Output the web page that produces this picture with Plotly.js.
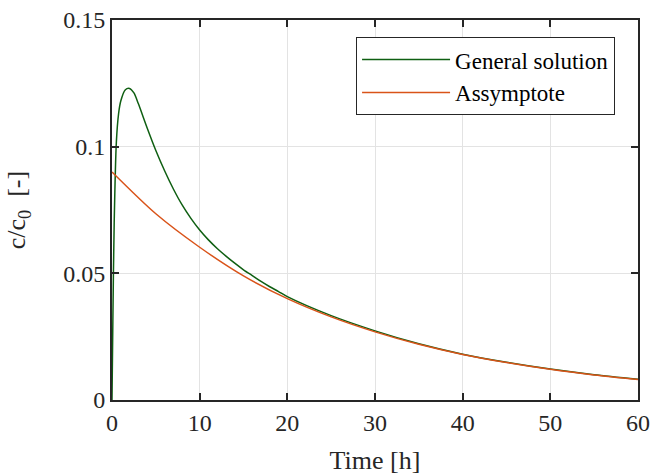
<!DOCTYPE html>
<html>
<head>
<meta charset="utf-8">
<script src="https://cdn.plot.ly/plotly-3.0.1.min.js"></script>
<style>html,body{margin:0;padding:0;background:#fff;}#chart{width:653px;height:476px;}</style>
</head>
<body>
<div id="chart"></div>
<script>
// General solution
const tGeneral = [0, 0.1, 0.25, 0.5, 0.75, 1, 1.5, 2, 2.5, 3, 4, 5, 6, 7, 8, 9, 10, 11, 12, 13, 14, 15, 16, 17, 18, 19, 20, 25, 30, 35, 40, 45, 50, 55, 60];
const cGeneral = [0, 0.032, 0.07, 0.102, 0.113, 0.118, 0.1224, 0.123, 0.1212, 0.1170, 0.1075, 0.0985, 0.0905, 0.0833, 0.0770, 0.0717, 0.0671, 0.0632, 0.0598, 0.0568, 0.0540, 0.0514, 0.0491, 0.0468, 0.0447, 0.0428, 0.0408, 0.0333, 0.0273, 0.0222, 0.0181, 0.0149, 0.0122, 0.0100, 0.0082];
// Asymptote
const tAsym = [0, 5, 10, 15, 20, 25, 30, 35, 40, 45, 50, 55, 60];
const cAsym = [0.0900, 0.0735, 0.0603, 0.0490, 0.0400, 0.0328, 0.0269, 0.0220, 0.0180, 0.0148, 0.0121, 0.0099, 0.0081];

const xTicks = [0, 10, 20, 30, 40, 50, 60];
const yTicks = [0, 0.05, 0.1, 0.15];
const yTickText = ["0", "0.05", "0.1", "0.15"];

const font = "Liberation Serif";

const traces = [
  {x: tGeneral, y: cGeneral, mode: "lines", name: "General solution",
   line: {color: "#0f5f12", width: 1.5, shape: "spline", smoothing: 0.8}},
  {x: tAsym, y: cAsym, mode: "lines", name: "Assymptote",
   line: {color: "#d95319", width: 1.5, shape: "spline", smoothing: 0.8}}
];

const axisCommon = {
  showline: true, linecolor: "#262626", linewidth: 2, mirror: "ticks",
  ticks: "inside", ticklen: 7, tickwidth: 2, tickcolor: "#262626",
  showgrid: true, gridcolor: "#e3e3e3", gridwidth: 1, zeroline: false,
  tickfont: {family: font, size: 24, color: "#262626"}
};

const layout = {
  width: 653, height: 476,
  margin: {l: 112, r: 15, t: 20, b: 76},
  paper_bgcolor: "#ffffff", plot_bgcolor: "#ffffff",
  font: {family: font, color: "#262626"},
  xaxis: Object.assign({}, axisCommon, {
    range: [0, 60], tickvals: xTicks, ticktext: xTicks.map(String),
    title: {text: "Time [h]", font: {family: font, size: 26, color: "#262626"}, standoff: 16}
  }),
  yaxis: Object.assign({}, axisCommon, {
    range: [0, 0.15], tickvals: yTicks, ticktext: yTickText,
    title: {text: "c/c<sub>0</sub>  [-]", font: {family: font, size: 26, color: "#262626"}, standoff: 30}
  }),
  showlegend: true,
  legend: {
    x: 0.464, y: 0.955, xanchor: "left", yanchor: "top",
    bgcolor: "#ffffff", bordercolor: "#262626", borderwidth: 1,
    font: {family: font, size: 23, color: "#000"},
    itemwidth: 88,
    tracegroupgap: 0
  }
};

Plotly.newPlot("chart", traces, layout, {displayModeBar: false, staticPlot: true});
</script>
</body>
</html>
